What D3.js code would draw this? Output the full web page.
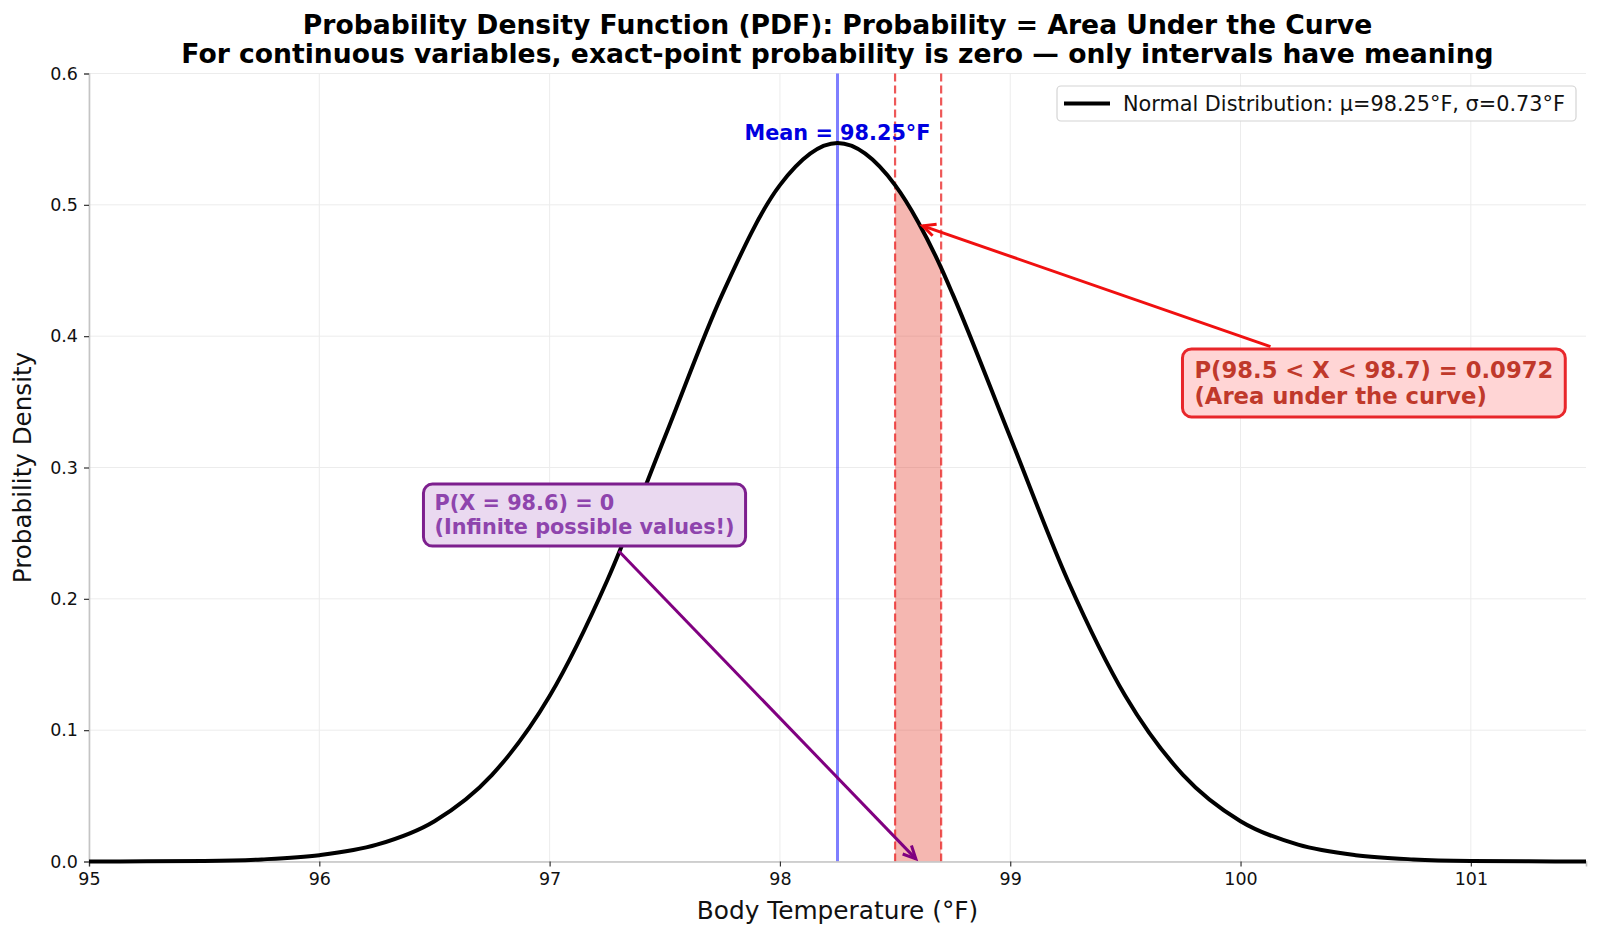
<!DOCTYPE html>
<html>
<head>
<meta charset="utf-8">
<script src="https://cdn.jsdelivr.net/npm/d3@7/dist/d3.min.js"></script>
<style>
  body { margin: 0; background: #fff; }
  svg { font-family: "DejaVu Sans", sans-serif; }
</style>
</head>
<body>
<svg id="chart" width="1600" height="939"></svg>
<script>
// body temperature grid (°F) and density
const temps = [95, 95.25, 95.5, 95.75, 96, 96.25, 96.5, 96.75, 97, 97.25, 97.5, 97.75, 98, 98.25,
  98.5, 98.6, 98.7, 98.75, 99, 99.25, 99.5, 99.75, 100, 100.25, 100.5, 100.75, 101, 101.25, 101.5]
const density = [0.0000, 0.0001, 0.0004, 0.0016, 0.0048, 0.0128, 0.0307, 0.066, 0.126, 0.214, 0.323, 0.432, 0.515, 0.547,
  0.515, 0.487, 0.452, 0.432, 0.323, 0.214, 0.126, 0.066, 0.0307, 0.0128, 0.0048, 0.0016, 0.0004, 0.0001, 0.0000]

const meanTemp = 98.25
const interval = [98.5, 98.7]
const xTicks = [95, 96, 97, 98, 99, 100, 101]
const yTicks = [0.0, 0.1, 0.2, 0.3, 0.4, 0.5, 0.6]

const titleLines = [
  'Probability Density Function (PDF): Probability = Area Under the Curve',
  'For continuous variables, exact-point probability is zero \u2014 only intervals have meaning'
]
const legendLabel = 'Normal Distribution: \u03bc=98.25\u00b0F, \u03c3=0.73\u00b0F'
const redLines = ['P(98.5 < X < 98.7) = 0.0972', '(Area under the curve)']
const purpleLines = ['P(X = 98.6) = 0', '(Infinite possible values!)']

const pts = temps.map((t, i) => ({t: t, d: density[i]}))

const svg = d3.select('#chart')
const margin = {left: 89, right: 14, top: 73.5, bottom: 77.5}
const W = 1600, H = 939

const x = d3.scaleLinear().domain([95, 101.5]).range([margin.left, W - margin.right])
const y = d3.scaleLinear().domain([0, 0.6]).range([H - margin.bottom, margin.top])

// grid
const grid = svg.append('g').attr('class', 'grid')
grid.selectAll('.vg').data(xTicks).enter().append('line')
    .attr('x1', d => x(d)).attr('x2', d => x(d))
    .attr('y1', y(0)).attr('y2', y(0.6))
    .attr('stroke', '#ececec').attr('stroke-width', 1)
grid.selectAll('.hg').data(yTicks).enter().append('line')
    .attr('x1', x(95)).attr('x2', x(101.5))
    .attr('y1', d => y(d)).attr('y2', d => y(d))
    .attr('stroke', '#ececec').attr('stroke-width', 1)

// shaded interval
const inside = pts.filter(p => p.t >= interval[0] && p.t <= interval[1])
svg.append('path')
    .datum(inside)
    .attr('d', d3.area().x(p => x(p.t)).y0(y(0)).y1(p => y(p.d)).curve(d3.curveMonotoneX))
    .attr('fill', '#e74c3c')
    .attr('opacity', 0.4)

// interval bounds
svg.selectAll('.bound').data(interval).enter().append('line')
    .attr('x1', d => x(d)).attr('x2', d => x(d))
    .attr('y1', y(0)).attr('y2', y(0.6))
    .attr('stroke', '#e82020').attr('stroke-opacity', 0.75)
    .attr('stroke-width', 2.2)
    .attr('stroke-dasharray', '8,4')

// mean line
svg.append('line')
    .attr('x1', x(meanTemp)).attr('x2', x(meanTemp))
    .attr('y1', y(0)).attr('y2', y(0.6))
    .attr('stroke', 'blue').attr('stroke-opacity', 0.5)
    .attr('stroke-width', 3)

// axes
const xAxis = svg.append('g')
    .attr('transform', `translate(0,${y(0)})`)
    .call(d3.axisBottom(x).tickValues(xTicks).tickFormat(d3.format('d')).tickSize(5).tickPadding(6))
const yAxis = svg.append('g')
    .attr('transform', `translate(${x(95)},0)`)
    .call(d3.axisLeft(y).tickValues(yTicks).tickFormat(d3.format('.1f')).tickSize(5).tickPadding(6))
;[xAxis, yAxis].forEach(a => {
    a.select('.domain').attr('stroke', '#c4c4c4').attr('stroke-width', 1.6)
    a.selectAll('.tick line').attr('stroke', '#333').attr('stroke-width', 1.2)
    a.selectAll('.tick text').attr('fill', '#111').style('font-size', '17.5px')
        .style('font-family', '"DejaVu Sans", sans-serif')
})

// curve
svg.append('path')
    .datum(pts)
    .attr('d', d3.line().x(p => x(p.t)).y(p => y(p.d)).curve(d3.curveMonotoneX))
    .attr('fill', 'none')
    .attr('stroke', '#000')
    .attr('stroke-width', 4)

// mean label
svg.append('text')
    .attr('x', x(meanTemp)).attr('y', y(0.547) - 3)
    .attr('text-anchor', 'middle')
    .attr('fill', '#0000e0')
    .style('font-size', '20.8px').style('font-weight', 'bold')
    .text('Mean = 98.25\u00b0F')

// arrow helper, open head like matplotlib '->'
const arrow = (g, x1, y1, x2, y2, color) => {
    g.append('line').attr('x1', x1).attr('y1', y1).attr('x2', x2).attr('y2', y2)
        .attr('stroke', color).attr('stroke-width', 3)
    const ang = Math.atan2(y2 - y1, x2 - x1), len = 14, spread = 0.45
    const p1 = [x2 - len * Math.cos(ang - spread), y2 - len * Math.sin(ang - spread)]
    const p2 = [x2 - len * Math.cos(ang + spread), y2 - len * Math.sin(ang + spread)]
    g.append('path').attr('d', `M${p1}L${x2},${y2}L${p2}`)
        .attr('fill', 'none').attr('stroke', color).attr('stroke-width', 3)
        .attr('stroke-linejoin', 'miter')
}

// annotation box helper
const textBox = (lines, tx, ty, opts) => {
    const g = svg.append('g')
    const t = g.append('text')
        .attr('fill', opts.text)
        .style('font-size', opts.size + 'px').style('font-weight', 'bold')
    lines.forEach((l, i) => t.append('tspan').attr('x', tx).attr('y', ty + i * opts.lh).text(l))
    const bb = t.node().getBBox()
    g.insert('rect', 'text')
        .attr('x', bb.x - opts.padX).attr('y', bb.y - opts.padY)
        .attr('width', bb.width + 2 * opts.padX).attr('height', bb.height + 2 * opts.padY)
        .attr('rx', 9).attr('ry', 9)
        .attr('fill', opts.fill).attr('stroke', opts.stroke).attr('stroke-width', 3)
    return bb
}

// interval annotation
const ann = svg.append('g')
arrow(ann, x(100.13), y(0.392), x(98.62), y(0.484), '#f01010')
textBox(redLines, x(99.8), y(0.3644) - 5, {text: '#c0392b', size: 22.7, lh: 26, padX: 12, padY: 8,
    fill: '#ffd5d5', stroke: '#e8262a'})

// exact-point annotation
arrow(ann, x(97.3), y(0.2364), x(98.59), y(0.002), '#800080')
textBox(purpleLines, x(96.5), y(0.263) - 6, {text: '#8e44ad', size: 20.8, lh: 24, padX: 11, padY: 7,
    fill: '#ead9f0', stroke: '#7d1f8e'})

// legend
const lg = svg.append('g')
lg.append('rect').attr('x', 1057).attr('y', 86).attr('width', 519).attr('height', 35)
    .attr('rx', 4).attr('fill', '#fff').attr('fill-opacity', 0.85)
    .attr('stroke', '#d4d4d4').attr('stroke-width', 1.2)
lg.append('line').attr('x1', 1064).attr('x2', 1110).attr('y1', 103.5).attr('y2', 103.5)
    .attr('stroke', '#000').attr('stroke-width', 4)
lg.append('text').attr('x', 1123).attr('y', 111)
    .style('font-size', '20.8px').attr('fill', '#111')
    .text(legendLabel)

// titles
svg.append('g').selectAll('text').data(titleLines).enter().append('text')
    .attr('x', (x(95) + x(101.5)) / 2)
    .attr('y', (d, i) => 34 + i * 28.5)
    .attr('text-anchor', 'middle')
    .style('font-size', '26.6px').style('font-weight', 'bold')
    .attr('fill', '#000')
    .text(d => d)

svg.append('text')
    .attr('x', (x(95) + x(101.5)) / 2).attr('y', 919)
    .attr('text-anchor', 'middle')
    .style('font-size', '24.8px').attr('fill', '#111')
    .text('Body Temperature (\u00b0F)')

svg.append('text')
    .attr('transform', `translate(31,${(y(0) + y(0.6)) / 2}) rotate(-90)`)
    .attr('text-anchor', 'middle')
    .style('font-size', '24.6px').attr('fill', '#111')
    .text('Probability Density')
</script>
</body>
</html>
